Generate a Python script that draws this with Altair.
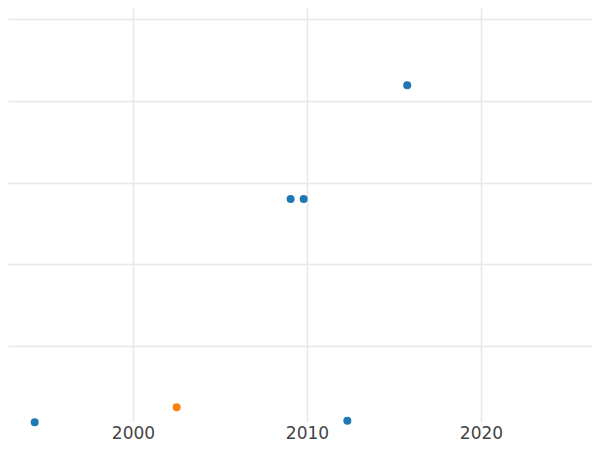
import altair as alt
import pandas as pd

years = [1994.35, 2002.51, 2009.06, 2009.81, 2012.32, 2015.76]
values = [0.066, 0.25, 2.80, 2.80, 0.086, 4.19]
groups = ["A", "B", "A", "A", "A", "A"]

group_domain = ["A", "B"]
group_colors = ["#1f77b4", "#ff7f0e"]

x_ticks = [2000, 2010, 2020]
y_ticks = [1, 2, 3, 4, 5]

df = pd.DataFrame({"year": years, "value": values, "group": groups})

chart = alt.Chart(df).mark_circle(size=64, opacity=1).encode(
    x=alt.X("year:Q",
            scale=alt.Scale(domain=[1992.816, 2026.38], nice=False, zero=False),
            axis=alt.Axis(values=x_ticks, format="d", title=None, domain=False,
                          ticks=False, tickSize=0, labelPadding=3,
                          labelFontSize=17, labelColor="#444444",
                          labelFont="DejaVu Sans", gridColor="#e8e8e8",
                          gridWidth=1.5)),
    y=alt.Y("value:Q",
            scale=alt.Scale(domain=[0.0698, 5.137], nice=False, zero=False),
            axis=alt.Axis(values=y_ticks, labels=False, title=None, domain=False,
                          ticks=False, tickSize=0, gridColor="#e8e8e8",
                          gridWidth=1.5)),
    color=alt.Color("group:N",
                    scale=alt.Scale(domain=group_domain, range=group_colors),
                    legend=None),
).properties(
    width=584, height=414, padding=0
).configure_view(stroke=None)

chart.save("out.html", embed_options={"renderer": "svg", "actions": False})
